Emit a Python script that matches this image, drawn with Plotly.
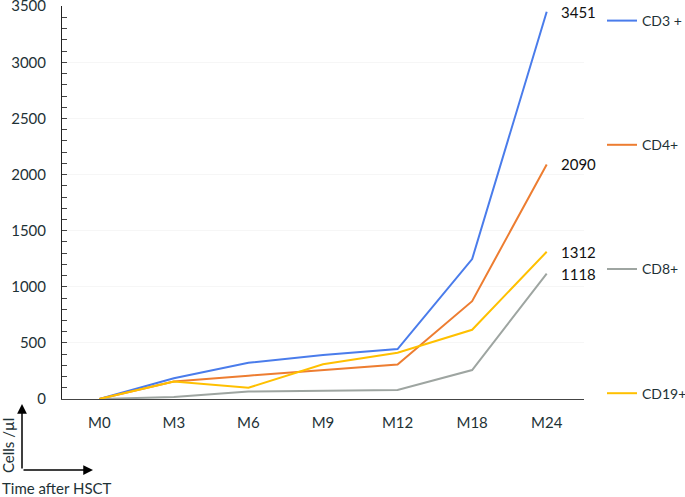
import plotly.graph_objects as go

months = ["M0", "M3", "M6", "M9", "M12", "M18", "M24"]
cd3 = [0, 185, 322, 392, 445, 1247, 3451]
cd4 = [0, 156, 208, 255, 308, 872, 2090]
cd8 = [0, 18, 67, 75, 80, 258, 1118]
cd19 = [0, 155, 100, 309, 413, 617, 1312]

series = [
    ("CD3 +", cd3, "#4A7CEB"),
    ("CD4+", cd4, "#ED7D31"),
    ("CD8+", cd8, "#9EA5A1"),
    ("CD19+", cd19, "#FFC000"),
]

FONT = "Lato, Open Sans, sans-serif"
TXT = "#1e3236"
FS = 15

fig = go.Figure()
annos = []
for i, (name, vals, col) in enumerate(series):
    fig.add_trace(go.Scatter(
        x=months, y=vals, name=name, mode="lines",
        line=dict(color=col, width=2),
        legendgroup=str(i),
    ))
    annos.append(dict(x=months[-1], y=vals[-1], xref="x", yref="y",
                      text=str(vals[-1]), showarrow=False, xanchor="left",
                      yanchor="middle", xshift=12,
                      font=dict(family=FONT, size=FS, color="#111")))

W, H = 685, 497
L, R, T, B = 62, 101, 6, 98
pw, ph = W - L - R, H - T - B

def px(x):
    return (x - L) / pw

def py(y):
    return (H - B - y) / ph

fig.update_layout(
    width=W, height=H,
    margin=dict(l=L, r=R, t=T, b=B, autoexpand=False),
    paper_bgcolor="white", plot_bgcolor="white",
    font=dict(family=FONT, size=FS, color=TXT),
    showlegend=True,
    legend=dict(x=px(602), y=py(5), xanchor="left", yanchor="top",
                tracegroupgap=103, font=dict(size=14, color=TXT),
                bgcolor="rgba(0,0,0,0)", maxheight=490),
    xaxis=dict(type="category", range=[-0.5, 6.5], showline=True,
               linecolor="#444", linewidth=1, ticks="", showgrid=False,
               ticklabelstandoff=10, tickfont=dict(size=FS, color=TXT)),
    yaxis=dict(range=[0, 3502], dtick=500, showline=True, linecolor="#222",
               linewidth=1, ticks="inside", ticklen=5, tickcolor="#444",
               showgrid=True, gridcolor="#f6f6f6", zeroline=False,
               ticklabeloverflow="allow",
               minor=dict(dtick=100, ticks="inside", ticklen=5, tickcolor="#444", showgrid=False),
               tickfont=dict(size=FS, color=TXT), ticklabelstandoff=12),
)

annos += [
    dict(x=px(22), y=py(404), ax=0, ay=66, xref="paper", yref="paper", axref="pixel", ayref="pixel",
         text="", showarrow=True, arrowhead=2, arrowsize=1.3, arrowwidth=1.5, arrowcolor="#000"),
    dict(x=px(93), y=py(470), ax=-71, ay=0, xref="paper", yref="paper", axref="pixel", ayref="pixel",
         text="", showarrow=True, arrowhead=2, arrowsize=1.3, arrowwidth=1.5, arrowcolor="#000"),
    dict(x=px(8), y=py(446), xref="paper", yref="paper", text="Cells /µl", textangle=-90,
         showarrow=False, font=dict(size=FS, color=TXT), xanchor="center", yanchor="middle"),
    dict(x=px(0), y=py(488), xref="paper", yref="paper", text="Time after HSCT",
         showarrow=False, font=dict(size=FS, color=TXT), xanchor="left", yanchor="middle"),
]
fig.update_layout(annotations=annos)

fig.write_html("out.html", config={"displayModeBar": False},
               post_script="document.body.style.margin='0px';document.body.style.overflow='hidden';")
